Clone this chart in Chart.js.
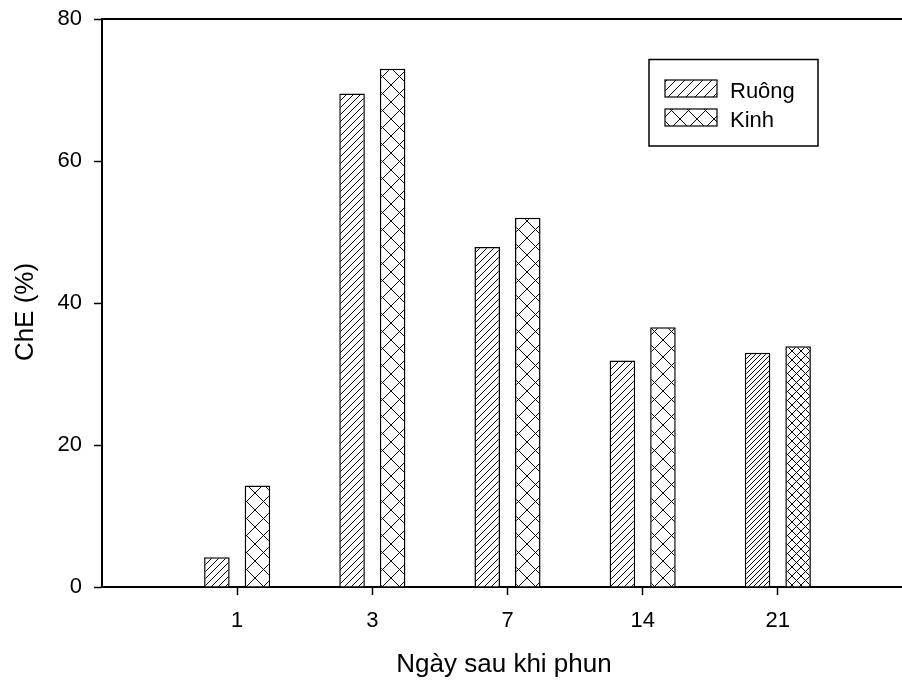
<!DOCTYPE html>
<html>
<head>
<meta charset="utf-8">
<script src="https://cdn.jsdelivr.net/npm/chart.js@4.4.0/dist/chart.umd.min.js"></script>
<style>
html, body { margin: 0; padding: 0; background: #fff; overflow: hidden; }
#wrap { width: 902px; height: 682px; overflow: hidden; }
canvas { display: block; }
</style>
</head>
<body>
<div id="wrap"><canvas id="chart" width="913" height="682"></canvas></div>
<script>
// data
const days = ['1', '3', '7', '14', '21'];
const ruong = [4.2, 69.5, 47.9, 31.9, 33.0];
const kinh = [14.3, 73.0, 52.0, 36.6, 33.9];
const yTicks = [0, 20, 40, 60, 80];
const seriesNames = ['Ruông', 'Kinh'];

const FONT = '"Liberation Sans", Arial, sans-serif';

// hatch density per bar (last group is drawn denser in the original)
const hatchRuong = [7, 7, 7, 7, 4.5];
const hatchKinh = [17, 17, 17, 17, 8.5];

// the plot frame wanted: left/top/bottom edges, and the right edge sits one
// category step past "21" (off the visible page)
const AREA_TOP = 19;
const AREA_RIGHT = 912.5;

function makeHatch(p, cross) {
    const c = document.createElement('canvas');
    c.width = p; c.height = p;
    const g = c.getContext('2d');
    g.fillStyle = '#fff';
    g.fillRect(0, 0, p, p);
    g.strokeStyle = '#000';
    g.lineWidth = 1;
    g.beginPath();
    // "/" lines
    g.moveTo(0, p); g.lineTo(p, 0);
    g.moveTo(-1, 1); g.lineTo(1, -1);
    g.moveTo(p - 1, p + 1); g.lineTo(p + 1, p - 1);
    if (cross) {
        // "\" lines
        g.moveTo(0, 0); g.lineTo(p, p);
        g.moveTo(p - 1, -1); g.lineTo(p + 1, 1);
        g.moveTo(-1, p - 1); g.lineTo(1, p + 1);
    }
    g.stroke();
    return g.createPattern(c, 'repeat');
}

const canvas = document.getElementById('chart');
const ctx = canvas.getContext('2d');
const cache = {};
function hatch(p, cross) {
    const key = p + '_' + cross;
    if (!cache[key]) cache[key] = makeHatch(Math.round(p), cross);
    return cache[key];
}

// blank slot on each side of the categories
const labels = [''].concat(days, ['']);
const pad = arr => [null].concat(arr, [null]);

const overlay = {
    id: 'overlay',
    afterDraw(chart) {
        const c = chart.ctx;
        const a = chart.chartArea;
        c.save();
        // top frame line
        c.strokeStyle = '#000';
        c.lineWidth = 2;
        c.beginPath();
        c.moveTo(a.left - 1, a.top);
        c.lineTo(a.right, a.top);
        c.stroke();

        // axis titles
        c.fillStyle = '#000';
        c.font = '26px ' + FONT;
        c.textAlign = 'center';
        c.textBaseline = 'alphabetic';
        c.fillText('Ngày sau khi phun', 504, 672);
        c.save();
        c.translate(33, 312);
        c.rotate(-Math.PI / 2);
        c.fillText('ChE (%)', 0, 0);
        c.restore();

        // legend box
        c.lineWidth = 1.5;
        c.strokeRect(649, 59.5, 169, 86.5);
        const rows = [[80, hatch(9, false)], [109, hatch(17, true)]];
        c.font = '22px ' + FONT;
        c.textAlign = 'left';
        rows.forEach((r, i) => {
            c.fillStyle = r[1];
            c.fillRect(665, r[0], 52, 17);
            c.lineWidth = 1.2;
            c.strokeRect(665, r[0], 52, 17);
            c.fillStyle = '#000';
            c.fillText(seriesNames[i], 730, r[0] + 17.5);
        });
        c.restore();
    }
};

function makeConfig(topPad) {
    return {
        type: 'bar',
        data: {
            labels: labels,
            datasets: [
                {
                    label: seriesNames[0],
                    data: pad(ruong),
                    backgroundColor: c => hatch(hatchRuong[Math.max(0, c.dataIndex - 1)] || 7, false),
                    borderColor: '#000',
                    borderWidth: 1.5,
                    categoryPercentage: 0.6,
                    barPercentage: 0.63
                },
                {
                    label: seriesNames[1],
                    data: pad(kinh),
                    backgroundColor: c => hatch(hatchKinh[Math.max(0, c.dataIndex - 1)] || 17, true),
                    borderColor: '#000',
                    borderWidth: 1.5,
                    categoryPercentage: 0.6,
                    barPercentage: 0.63
                }
            ]
        },
        options: {
            responsive: false,
            animation: false,
            devicePixelRatio: 1,
            layout: { padding: { top: topPad, right: 0, left: 0, bottom: 0 } },
            plugins: {
                legend: { display: false },
                tooltip: { enabled: false }
            },
            scales: {
                x: {
                    type: 'category',
                    offset: false,
                    grid: {
                        offset: false,
                        drawOnChartArea: false,
                        drawTicks: true,
                        tickLength: 8,
                        tickWidth: 1.5,
                        color: c => labels[c.index] ? '#000' : 'rgba(0,0,0,0)',
                        tickColor: c => labels[c.index] ? '#000' : 'rgba(0,0,0,0)'
                    },
                    border: { display: true, color: '#000', width: 2 },
                    ticks: {
                        color: '#000',
                        font: { family: FONT, size: 22 },
                        padding: 13,
                        maxRotation: 0,
                        autoSkip: false
                    },
                    afterFit: s => { s.height = 95; }
                },
                y: {
                    min: 0,
                    max: 80,
                    grid: {
                        drawOnChartArea: false,
                        tickLength: 8,
                        tickWidth: 1.5,
                        color: '#000'
                    },
                    border: { display: true, color: '#000', width: 2 },
                    ticks: {
                        color: '#000',
                        // small lineHeight so the top label does not push the plot down
                        font: { family: FONT, size: 22, lineHeight: 0.5 },
                        padding: 12
                    },
                    afterBuildTicks: s => { s.ticks = yTicks.map(v => ({ value: v })); },
                    afterFit: s => { s.width = 102; }
                }
            }
        },
        plugins: [overlay]
    };
}

// first pass to see where the layout puts the plot frame, then fit it
let topPad = AREA_TOP;
let chart = new Chart(ctx, makeConfig(topPad));
const dx = AREA_RIGHT - chart.chartArea.right;
const dy = AREA_TOP - chart.chartArea.top;
chart.destroy();
canvas.width = Math.round(913 + dx);
canvas.height = 682;
topPad = Math.max(0, topPad + dy);
chart = new Chart(ctx, makeConfig(topPad));
</script>
</body>
</html>
